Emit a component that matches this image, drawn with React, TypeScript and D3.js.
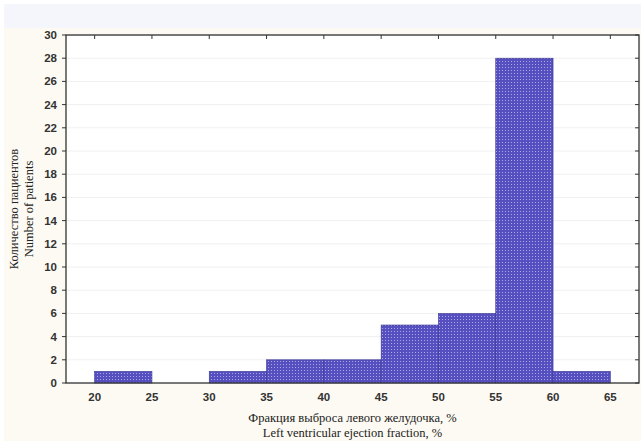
import React from "react";
import * as d3 from "d3";

const binStarts = [20, 25, 30, 35, 40, 45, 50, 55, 60];
const binWidth = 5;
const counts = [1, 0, 1, 2, 2, 5, 6, 28, 1];
const xTicks = [20, 25, 30, 35, 40, 45, 50, 55, 60, 65];
const yTicks = [0, 2, 4, 6, 8, 10, 12, 14, 16, 18, 20, 22, 24, 26, 28, 30];
const yTitle = ["Количество пациентов", "Number of patients"];
const xTitle = ["Фракция выброса левого желудочка, %", "Left ventricular ejection fraction, %"];

const W = 641, H = 441;
const left = 66, right = 639, top = 35, bottom = 383;
const serif = "'Liberation Serif', 'Times New Roman', serif";
const sans = "'Liberation Sans', Arial, sans-serif";

export default function App() {
  const x = d3.scaleLinear().domain([17.5, 67.5]).range([left, right]);
  const y = d3.scaleLinear().domain([0, 30]).range([bottom, top]);
  return (
    <svg width={W} height={H} style={{ position: "absolute", left: 0, top: 0, display: "block" }}>
      <defs>
        <pattern id="dots" width="3" height="3" patternUnits="userSpaceOnUse">
          <rect width="3" height="3" fill="#554fbf" />
          <rect x="1" y="1" width="1" height="1" fill="#aaa7e6" />
        </pattern>
      </defs>
      <rect x={0} y={0} width={W} height={H} fill="#ffffff" />
      <rect x={4} y={4} width={W - 4} height={24} fill="#f4f6fb" />
      <rect x={4} y={28} width={W - 4} height={H - 28} fill="#fcfaf2" />
      <rect x={left} y={top} width={right - left} height={bottom - top} fill="#ffffff" />
      {yTicks.map((t) => (
        <line key={"g" + t} x1={left} x2={right} y1={y(t)} y2={y(t)} stroke="#f0f0f0" strokeWidth={1} />
      ))}
      {binStarts.map((b, i) =>
        counts[i] > 0 ? (
          <rect
            key={"b" + b}
            x={x(b)}
            y={y(counts[i])}
            width={x(b + binWidth) - x(b)}
            height={y(0) - y(counts[i])}
            fill="url(#dots)"
            stroke="#3a3590"
            strokeWidth={0.6}
          />
        ) : null
      )}
      <rect x={left} y={top} width={right - left} height={bottom - top} fill="none" stroke="#333" strokeWidth={1.3} />
      {yTicks.map((t) => (
        <g key={"y" + t}>
          <line x1={left - 4} x2={left} y1={y(t)} y2={y(t)} stroke="#333" />
          <line x1={right - 4} x2={right} y1={y(t)} y2={y(t)} stroke="#333" />
          <text
            x={left - 9}
            y={y(t)}
            dy="0.35em"
            textAnchor="end"
            fontFamily={sans}
            fontWeight="bold"
            fontSize={11.5}
            fill="#333"
          >
            {t}
          </text>
        </g>
      ))}
      {xTicks.map((t) => (
        <g key={"x" + t}>
          <line x1={x(t)} x2={x(t)} y1={top} y2={top + 4} stroke="#333" />
          <text
            x={x(t)}
            y={397}
            dy="0.35em"
            textAnchor="middle"
            fontFamily={sans}
            fontWeight="bold"
            fontSize={11.5}
            fill="#333"
          >
            {t}
          </text>
        </g>
      ))}
      <g transform={`translate(0, ${(top + bottom) / 2}) rotate(-90)`}>
        {yTitle.map((s, i) => (
          <text
            key={s}
            x={0}
            y={18 + i * 15}
            textAnchor="middle"
            fontFamily={serif}
            fontSize={12.5}
            fill="#222"
          >
            {s}
          </text>
        ))}
      </g>
      {xTitle.map((s, i) => (
        <text
          key={s}
          x={(left + right) / 2}
          y={422 + i * 14.5}
          textAnchor="middle"
          fontFamily={serif}
          fontSize={12.5}
          fill="#222"
        >
          {s}
        </text>
      ))}
    </svg>
  );
}
